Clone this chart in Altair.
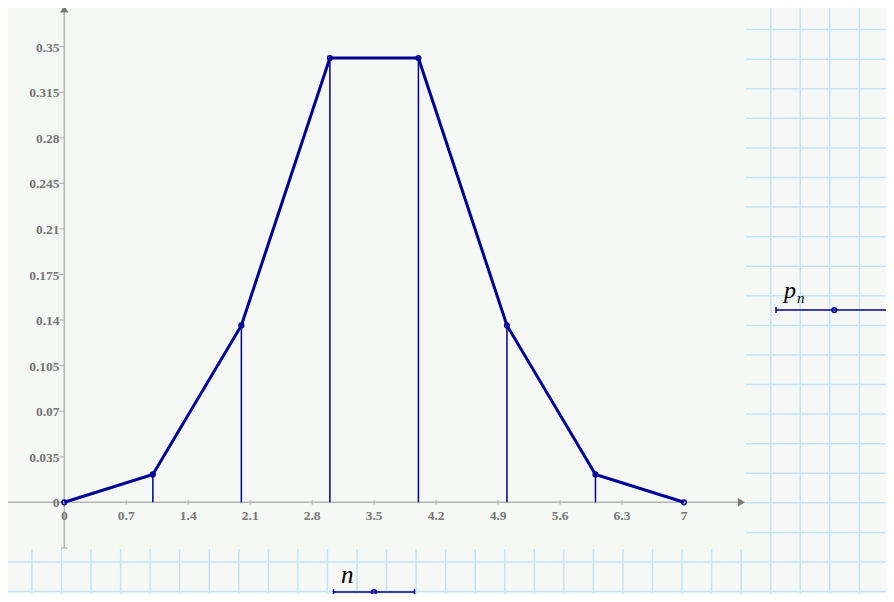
import altair as alt
import pandas as pd
import numpy as np

# ---- data ----
n_vals = [0, 1, 2, 3, 4, 5, 6, 7]
p_vals = [0.0, 0.0214, 0.1359, 0.3413, 0.3413, 0.1359, 0.0214, 0.0]
x_ticks = [0, 0.7, 1.4, 2.1, 2.8, 3.5, 4.2, 4.9, 5.6, 6.3, 7]
x_tick_labels = ["0", "0.7", "1.4", "2.1", "2.8", "3.5", "4.2", "4.9", "5.6", "6.3", "7"]
y_ticks = [0, 0.035, 0.07, 0.105, 0.14, 0.175, 0.21, 0.245, 0.28, 0.315, 0.35]
y_tick_labels = ["0", "0.035", "0.07", "0.105", "0.14", "0.175", "0.21", "0.245", "0.28", "0.315", "0.35"]

# ---- layout (reference page pixels -> data units) ----
W, H = 878, 586
X0, SX = 64.3, 88.53      # page x of n=0, px per unit
Y0, SY = 502.3, 1301.7    # page y of p=0, px per unit

def px_x(px):
    return (px - X0) / SX

def px_y(py):
    return (Y0 - py) / SY

xs = alt.Scale(domain=[px_x(8), px_x(8 + W)], nice=False, zero=False)
ys = alt.Scale(domain=[px_y(8 + H), px_y(8)], nice=False, zero=False)

BG = "#f5f8f5"
GRID = "#c3e5f7"
NAVY = "#000096"
AX = "#b5b5b5"
AXD = "#7a7a7a"
LBL = "#767676"

def X(f="x"):
    return alt.X(f"{f}:Q", scale=xs, axis=None)

def Y(f="y"):
    return alt.Y(f"{f}:Q", scale=ys, axis=None)

# paper grid
vx = [2.4 + 29.55 * k for k in range(0, 31)]
hy = [29.58 * k for k in range(0, 21)]
vgrid = pd.DataFrame({"x": [px_x(v) for v in vx], "y": px_y(8), "y2": px_y(8 + H)})
hgrid = pd.DataFrame({"y": [px_y(h) for h in hy], "x": px_x(8), "x2": px_x(8 + W)})
g1 = alt.Chart(vgrid).mark_rule(color=GRID, strokeWidth=1.5).encode(x=X(), y=Y(), y2="y2:Q")
g2 = alt.Chart(hgrid).mark_rule(color=GRID, strokeWidth=1.5).encode(y=Y(), x=X(), x2="x2:Q")

# plot area
area = alt.Chart(pd.DataFrame({"x": [px_x(0)], "x2": [px_x(746)], "y": [px_y(1.5)], "y2": [px_y(549)]})).mark_rect(
    color=BG).encode(x=X(), x2="x2:Q", y=Y(), y2="y2:Q")

# axes
xaxis = alt.Chart(pd.DataFrame({"x": [px_x(3)], "x2": [px_x(740)], "y": [0.0]})).mark_rule(
    color=AX, strokeWidth=1.6).encode(x=X(), x2="x2:Q", y=Y())
yaxis = alt.Chart(pd.DataFrame({"x": [0.0], "y": [px_y(548)], "y2": [px_y(10)]})).mark_rule(
    color=AX, strokeWidth=1.6).encode(x=X(), y=Y(), y2="y2:Q")
xcap = alt.Chart(pd.DataFrame({"x": [px_x(3)], "y": [px_y(499)], "y2": [px_y(505.5)]})).mark_rule(
    color=AX, strokeWidth=1.2).encode(x=X(), y=Y(), y2="y2:Q")
ycap = alt.Chart(pd.DataFrame({"y": [px_y(548)], "x": [px_x(61)], "x2": [px_x(67.5)]})).mark_rule(
    color=AX, strokeWidth=1.2).encode(y=Y(), x=X(), x2="x2:Q")
xarrow = alt.Chart(pd.DataFrame({"x": [px_x(741.5)], "y": [0.0]})).mark_point(
    shape="triangle-right", filled=True, color=AXD, size=70, opacity=1).encode(x=X(), y=Y())
yarrow = alt.Chart(pd.DataFrame({"x": [0.0], "y": [px_y(9)]})).mark_point(
    shape="triangle-up", filled=True, color=AXD, size=70, opacity=1).encode(x=X(), y=Y())

xt = pd.DataFrame({"x": x_ticks, "lab": x_tick_labels, "y": px_y(500.3), "y2": px_y(504.5), "ly": px_y(519.5)})
yt = pd.DataFrame({"y": y_ticks, "lab": y_tick_labels, "x": px_x(59.5), "x2": 0.0, "lx": px_x(59.5)})
xtick = alt.Chart(xt).mark_rule(color=AX, strokeWidth=1.2).encode(x=X(), y=Y(), y2="y2:Q")
ytick = alt.Chart(yt).mark_rule(color=AX, strokeWidth=1.2).encode(y=Y(), x=X(), x2="x2:Q")
font = dict(font="Liberation Serif", fontSize=13.5, fontWeight="bold", color=LBL)
xlab = alt.Chart(xt).mark_text(align="center", baseline="alphabetic", **font).encode(
    x=X(), y=Y("ly"), text="lab:N")
ylab = alt.Chart(yt).mark_text(align="right", baseline="middle", dy=1, **font).encode(
    x=X("lx"), y=Y(), text="lab:N")

# data
df = pd.DataFrame({"n": n_vals, "p": p_vals, "z": 0.0})
stems = alt.Chart(df).mark_rule(color=NAVY, strokeWidth=1.5).encode(x=X("n"), y=Y("p"), y2="z:Q")
line = alt.Chart(df).mark_line(color=NAVY, strokeWidth=3).encode(x=X("n"), y=Y("p"), order="n:Q")
pts = alt.Chart(df).mark_point(color=NAVY, filled=False, strokeWidth=1.5, size=22, opacity=1).encode(
    x=X("n"), y=Y("p"))

# legend glyphs
leg_lines = pd.DataFrame({"x": [px_x(776), px_x(333.5)], "x2": [px_x(900), px_x(414.5)],
                          "y": [px_y(310), px_y(592)], "c": [px_x(834.3), px_x(374)]})
leg_line = alt.Chart(leg_lines).mark_rule(color=NAVY, strokeWidth=1.5).encode(x=X(), x2="x2:Q", y=Y())
leg_pt = alt.Chart(leg_lines).mark_point(color=NAVY, filled=False, strokeWidth=1.5, size=22, opacity=1).encode(
    x=X("c"), y=Y())
caps = pd.DataFrame({"x": [px_x(776), px_x(892.8), px_x(333.5), px_x(414.5)],
                     "y": [px_y(307), px_y(307), px_y(589), px_y(589)],
                     "y2": [px_y(313), px_y(313), px_y(595), px_y(595)]})
leg_caps = alt.Chart(caps).mark_rule(color=NAVY, strokeWidth=1.5).encode(x=X(), y=Y(), y2="y2:Q")

mfont = dict(font="Liberation Serif", fontStyle="italic", color="#000000")
t_p = alt.Chart(pd.DataFrame({"x": [px_x(784)], "y": [px_y(298)], "t": ["p"]})).mark_text(
    align="left", baseline="alphabetic", fontSize=24, **mfont).encode(x=X(), y=Y(), text="t:N")
t_pn = alt.Chart(pd.DataFrame({"x": [px_x(797)], "y": [px_y(303)], "t": ["n"]})).mark_text(
    align="left", baseline="alphabetic", fontSize=15, **mfont).encode(x=X(), y=Y(), text="t:N")
t_n = alt.Chart(pd.DataFrame({"x": [px_x(341)], "y": [px_y(583)], "t": ["n"]})).mark_text(
    align="left", baseline="alphabetic", fontSize=25, **mfont).encode(x=X(), y=Y(), text="t:N")

chart = alt.layer(
    g1, g2, area, xaxis, yaxis, xcap, ycap, xtick, ytick, xarrow, yarrow, xlab, ylab,
    stems, line, pts, leg_line, leg_caps, leg_pt, t_p, t_pn, t_n
).properties(
    width=W, height=H, background=BG, padding=0, autosize=alt.AutoSizeParams(type="none")
).configure_view(stroke=None, clip=True)

chart.save("out.html", embed_options={"renderer": "svg", "actions": False})
